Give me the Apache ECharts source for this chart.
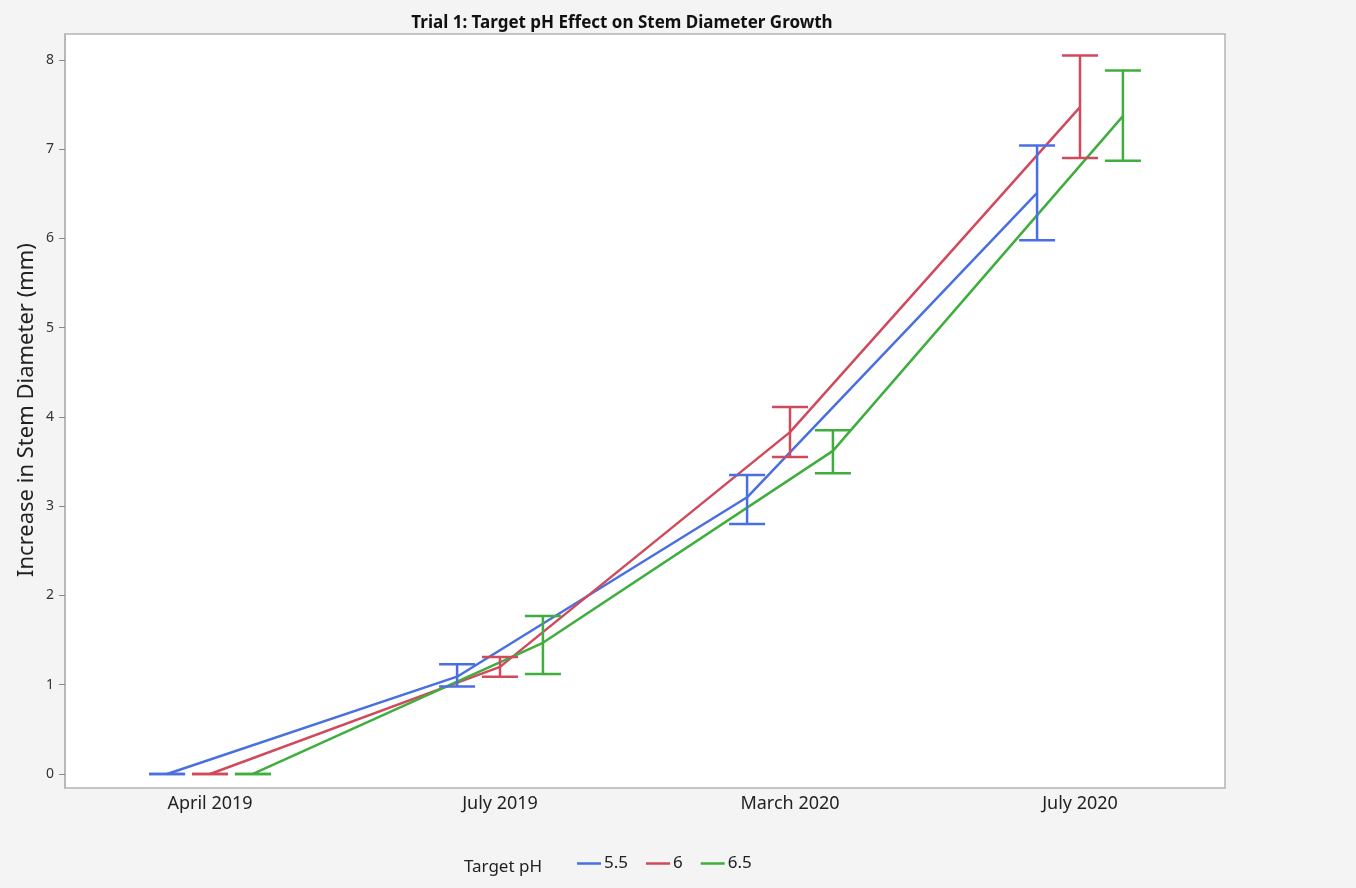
<!DOCTYPE html>
<html>
<head>
<meta charset="utf-8">
<script src="https://cdn.jsdelivr.net/npm/echarts@6/dist/echarts.min.js"></script>
<style>
  html, body { margin: 0; padding: 0; background: #f4f4f4; }
  #chart { width: 1356px; height: 888px; }
</style>
</head>
<body>
<div id="chart"></div>
<script>
// Sampling dates (x categories)
const dates = ['April 2019', 'July 2019', 'March 2020', 'July 2020'];
// Target pH groups
const groups = ['5.5', '6', '6.5'];
const groupColors = ['#4a6fe0', '#d04a5c', '#3fae3f'];
// Horizontal dodge of each group within a date (in category units)
const dodge = [-0.148, 0, 0.148];

// Mean increase in stem diameter (mm)
const mean55 = [0, 1.09, 3.10, 6.51];
const mean60 = [0, 1.20, 3.83, 7.47];
const mean65 = [0, 1.47, 3.62, 7.37];
// Error bar lower / upper limits (mm)
const low55 = [0, 0.98, 2.80, 5.98];
const high55 = [0, 1.23, 3.35, 7.04];
const low60 = [0, 1.09, 3.55, 6.90];
const high60 = [0, 1.31, 4.11, 8.05];
const low65 = [0, 1.12, 3.37, 6.87];
const high65 = [0, 1.77, 3.85, 7.88];

const yTicks = [0, 1, 2, 3, 4, 5, 6, 7, 8];

const means = [mean55, mean60, mean65];
const lows = [low55, low60, low65];
const highs = [high55, high60, high65];

const series = [];
groups.forEach((g, gi) => {
  series.push({
    name: g,
    type: 'line',
    xAxisIndex: 1,
    yAxisIndex: 0,
    showSymbol: false,
    symbol: 'none',
    lineStyle: { color: groupColors[gi], width: 2.5 },
    itemStyle: { color: groupColors[gi] },
    data: means[gi].map((v, i) => [i + dodge[gi], v]),
    z: 3
  });
  series.push({
    name: g + ' error',
    type: 'custom',
    xAxisIndex: 1,
    yAxisIndex: 0,
    data: lows[gi].map((lo, i) => [i + dodge[gi], lo, highs[gi][i]]),
    renderItem: function (params, api) {
      const x = api.value(0);
      const pLo = api.coord([x, api.value(1)]);
      const pHi = api.coord([x, api.value(2)]);
      const hw = 18;
      const style = { stroke: groupColors[gi], lineWidth: 2.5 };
      return {
        type: 'group',
        children: [
          { type: 'line', shape: { x1: pLo[0], y1: pLo[1], x2: pHi[0], y2: pHi[1] }, style },
          { type: 'line', shape: { x1: pLo[0] - hw, y1: pLo[1], x2: pLo[0] + hw, y2: pLo[1] }, style },
          { type: 'line', shape: { x1: pHi[0] - hw, y1: pHi[1], x2: pHi[0] + hw, y2: pHi[1] }, style }
        ]
      };
    },
    z: 4
  });
});

const chart = echarts.init(document.getElementById('chart'), null, { renderer: 'canvas' });
chart.setOption({
  backgroundColor: '#f4f4f4',
  animation: false,
  title: {
    text: 'Trial 1: Target pH Effect on Stem Diameter Growth',
    left: 617,
    top: 10,
    textAlign: 'center',
    textStyle: { fontFamily: 'Noto Sans', fontSize: 17, fontWeight: 'bold', color: '#111' }
  },
  grid: {
    left: 65, right: 131, top: 34, bottom: 100,
    show: true,
    backgroundColor: '#ffffff',
    borderColor: '#b4b4b4',
    borderWidth: 1.5
  },
  legend: {
    data: groups,
    left: 572,
    top: 850,
    icon: 'rect',
    itemWidth: 24,
    itemHeight: 2.5,
    itemGap: 18,
    textStyle: { fontFamily: 'Noto Sans', fontSize: 17, color: '#222', padding: [0, 0, 0, -2] }
  },
  xAxis: [
    {
      type: 'category',
      data: dates,
      boundaryGap: true,
      axisLine: { show: false },
      axisTick: { show: false },
      splitLine: { show: false },
      axisLabel: { fontFamily: 'Noto Sans', fontSize: 18, color: '#222', margin: 7 }
    },
    {
      type: 'value',
      min: -0.5,
      max: 3.5,
      show: false
    }
  ],
  yAxis: {
    type: 'value',
    min: -0.157,
    max: 8.29,
    axisLine: { show: true, onZero: false, lineStyle: { color: '#b4b4b4', width: 1.5 } },
    splitLine: { show: false },
    axisTick: { show: true, length: 6, customValues: yTicks, lineStyle: { color: '#888', width: 1 } },
    axisLabel: { customValues: yTicks, fontFamily: 'Noto Sans', fontSize: 14, color: '#333', margin: 11 }
  },
  graphic: [
    {
      type: 'text',
      x: 27, y: 410,
      rotation: Math.PI / 2,
      style: {
        text: 'Increase in Stem Diameter (mm)',
        fontFamily: 'Noto Sans', fontSize: 22, fill: '#222',
        textAlign: 'center', textVerticalAlign: 'middle'
      }
    },
    {
      type: 'text',
      x: 503, y: 867,
      style: {
        text: 'Target pH',
        fontFamily: 'Noto Sans', fontSize: 17, fill: '#222',
        textAlign: 'center', textVerticalAlign: 'middle'
      }
    }
  ],
  series: series
});
</script>
</body>
</html>
